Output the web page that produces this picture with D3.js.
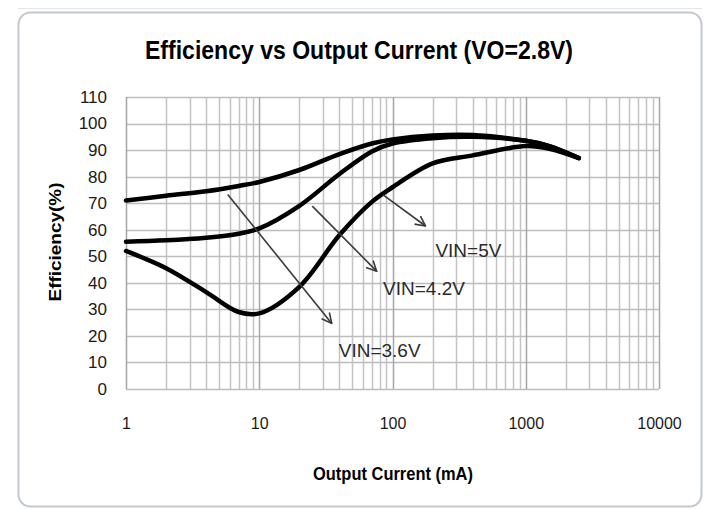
<!DOCTYPE html>
<html>
<head>
<meta charset="utf-8">
<script src="https://cdn.jsdelivr.net/npm/d3@7"></script>
<style>
  html, body { margin: 0; padding: 0; background: #fff; }
  svg { display: block; }
</style>
</head>
<body>
<div id="chart"></div>
<script>
// output current (mA), shared by all three curves
var current = [1, 2, 4, 7, 10, 20, 40, 70, 100, 200, 400, 1000, 1500, 2500];
// efficiency (%) for each input voltage
var vin5  = [71, 72.8, 74.5, 76.5, 78, 82.5, 88.5, 92.5, 94, 95.5, 95.7, 93.5, 91.5, 87];
var vin42 = [55.5, 56, 57, 58.5, 60.5, 69, 81, 89.5, 92.5, 94.5, 95, 93.5, 91.5, 87];
var vin36 = [52, 45.5, 36.5, 29, 28.5, 38.5, 58, 70.5, 76, 85, 88, 91.5, 90.5, 87];

var xTicks = [1, 10, 100, 1000, 10000];
var yTicks = [0, 10, 20, 30, 40, 50, 60, 70, 80, 90, 100, 110];

// annotation arrows: [from current, from eff, to current, to eff]
var arrowLines = [
  [5.8, 73.3, 35, 24.7],
  [25, 68.9, 76, 44.4],
  [85, 73.1, 177, 61.4]
];
// labels: [text, current at left edge, eff at middle]
var labelText = ["VIN=5V", "VIN=4.2V", "VIN=3.6V"];
var labelX = [210, 85, 39.5];
var labelY = [52.4, 38, 14.4];

var width = 705, height = 509;
var plot = {left: 126, right: 659, top: 97, bottom: 389};

var svg = d3.select("#chart").append("svg")
  .attr("width", width)
  .attr("height", height);

// faint sheet line above the chart frame
svg.append("line")
  .attr("x1", 18).attr("x2", 702).attr("y1", 8.5).attr("y2", 8.5)
  .attr("stroke", "#e2e6ea").attr("stroke-width", 1);

// chart frame
svg.append("rect")
  .attr("x", 18.5).attr("y", 12.5)
  .attr("width", 683).attr("height", 494)
  .attr("rx", 12).attr("ry", 12)
  .attr("fill", "#fff")
  .attr("stroke", "#c3c9cf")
  .attr("stroke-width", 2);

var x = d3.scaleLog().domain([1, 10000]).range([plot.left, plot.right]);
var y = d3.scaleLinear().domain([0, 110]).range([plot.bottom, plot.top]);

// grid
var minor = [];
for (var k = 0; k < 4; k++) {
  for (var m = 2; m <= 9; m++) minor.push(m * Math.pow(10, k));
}
var grid = svg.append("g").attr("class", "grid");
grid.selectAll(".vminor").data(minor).enter().append("line")
  .attr("x1", function(d){ return Math.round(x(d)) + 0.5; })
  .attr("x2", function(d){ return Math.round(x(d)) + 0.5; })
  .attr("y1", plot.top).attr("y2", plot.bottom)
  .attr("stroke", "#c4c4c4").attr("stroke-width", 1.5);
grid.selectAll(".hline").data(yTicks).enter().append("line")
  .attr("x1", plot.left).attr("x2", plot.right)
  .attr("y1", function(d){ return Math.round(y(d)) + 0.5; })
  .attr("y2", function(d){ return Math.round(y(d)) + 0.5; })
  .attr("stroke", "#bdbdbd").attr("stroke-width", 1.5);
grid.selectAll(".vmajor").data(xTicks).enter().append("line")
  .attr("x1", function(d){ return Math.round(x(d)) + 0.5; })
  .attr("x2", function(d){ return Math.round(x(d)) + 0.5; })
  .attr("y1", plot.top).attr("y2", plot.bottom)
  .attr("stroke", "#a6a6a6").attr("stroke-width", 1.5);

// axes (labels only)
var xAxis = svg.append("g")
  .attr("transform", "translate(0," + (plot.bottom + 32) + ")")
  .call(d3.axisBottom(x).tickValues(xTicks).tickFormat(d3.format("d")).tickSize(0));
xAxis.select(".domain").remove();
xAxis.selectAll("text")
  .attr("dy", "0.32em")
  .attr("font-family", "'Liberation Sans', Arial, sans-serif")
  .attr("font-size", 16)
  .attr("fill", "#1a1a1a");

var yAxis = svg.append("g")
  .attr("transform", "translate(" + (plot.left - 19) + ",0)")
  .call(d3.axisLeft(y).tickValues(yTicks).tickSize(0));
yAxis.select(".domain").remove();
yAxis.selectAll("text")
  .attr("x", 0)
  .attr("font-family", "'Liberation Sans', Arial, sans-serif")
  .attr("font-size", 17)
  .attr("fill", "#1a1a1a");

// curves
var line = d3.line()
  .x(function(d){ return x(d[0]); })
  .y(function(d){ return y(d[1]); })
  .curve(d3.curveCatmullRom.alpha(0.5));

[vin5, vin42, vin36].forEach(function(vals){
  svg.append("path")
    .datum(d3.zip(current, vals))
    .attr("d", line)
    .attr("fill", "none")
    .attr("stroke", "#000")
    .attr("stroke-width", 4.5)
    .attr("stroke-linecap", "round")
    .attr("stroke-linejoin", "round");
});

// arrows
svg.append("defs").append("marker")
  .attr("id", "head")
  .attr("viewBox", "0 0 12 12")
  .attr("refX", 11).attr("refY", 6)
  .attr("markerWidth", 12).attr("markerHeight", 12)
  .attr("markerUnits", "userSpaceOnUse")
  .attr("orient", "auto")
  .append("path")
  .attr("d", "M1,1 L11,6 L1,11")
  .attr("fill", "none")
  .attr("stroke", "#3a3a3a")
  .attr("stroke-width", 1.6);

svg.selectAll(".arrow").data(arrowLines).enter().append("line")
  .attr("class", "arrow")
  .attr("x1", function(d){ return x(d[0]); })
  .attr("y1", function(d){ return y(d[1]); })
  .attr("x2", function(d){ return x(d[2]); })
  .attr("y2", function(d){ return y(d[3]); })
  .attr("stroke", "#3a3a3a")
  .attr("stroke-width", 1.6)
  .attr("marker-end", "url(#head)");

svg.selectAll(".vin").data(labelText).enter().append("text")
  .attr("class", "vin")
  .attr("x", function(d, i){ return x(labelX[i]); })
  .attr("y", function(d, i){ return y(labelY[i]); })
  .attr("dy", "0.35em")
  .attr("font-family", "'Liberation Sans Narrow', 'Liberation Sans', Arial, sans-serif")
  .attr("font-size", 19)
  .attr("fill", "#2b2b2b")
  .text(function(d){ return d; });

// titles
svg.append("text")
  .attr("x", 359).attr("y", 59)
  .attr("text-anchor", "middle")
  .attr("font-family", "'Liberation Sans Narrow', 'Liberation Sans', Arial, sans-serif")
  .attr("font-weight", "bold")
  .attr("font-size", 26)
  .attr("textLength", 428)
  .attr("lengthAdjust", "spacingAndGlyphs")
  .attr("fill", "#000")
  .text("Efficiency vs Output Current (VO=2.8V)");

svg.append("text")
  .attr("x", 393).attr("y", 480)
  .attr("text-anchor", "middle")
  .attr("font-family", "'Liberation Sans Narrow', 'Liberation Sans', Arial, sans-serif")
  .attr("font-weight", "bold")
  .attr("font-size", 18)
  .attr("textLength", 160)
  .attr("lengthAdjust", "spacingAndGlyphs")
  .attr("fill", "#000")
  .text("Output Current (mA)");

svg.append("text")
  .attr("transform", "translate(61,242) rotate(-90)")
  .attr("text-anchor", "middle")
  .attr("font-family", "'Liberation Sans Narrow', 'Liberation Sans', Arial, sans-serif")
  .attr("font-weight", "bold")
  .attr("font-size", 16)
  .attr("textLength", 119)
  .attr("lengthAdjust", "spacingAndGlyphs")
  .attr("fill", "#000")
  .text("Efficiency(%)");
</script>
</body>
</html>
